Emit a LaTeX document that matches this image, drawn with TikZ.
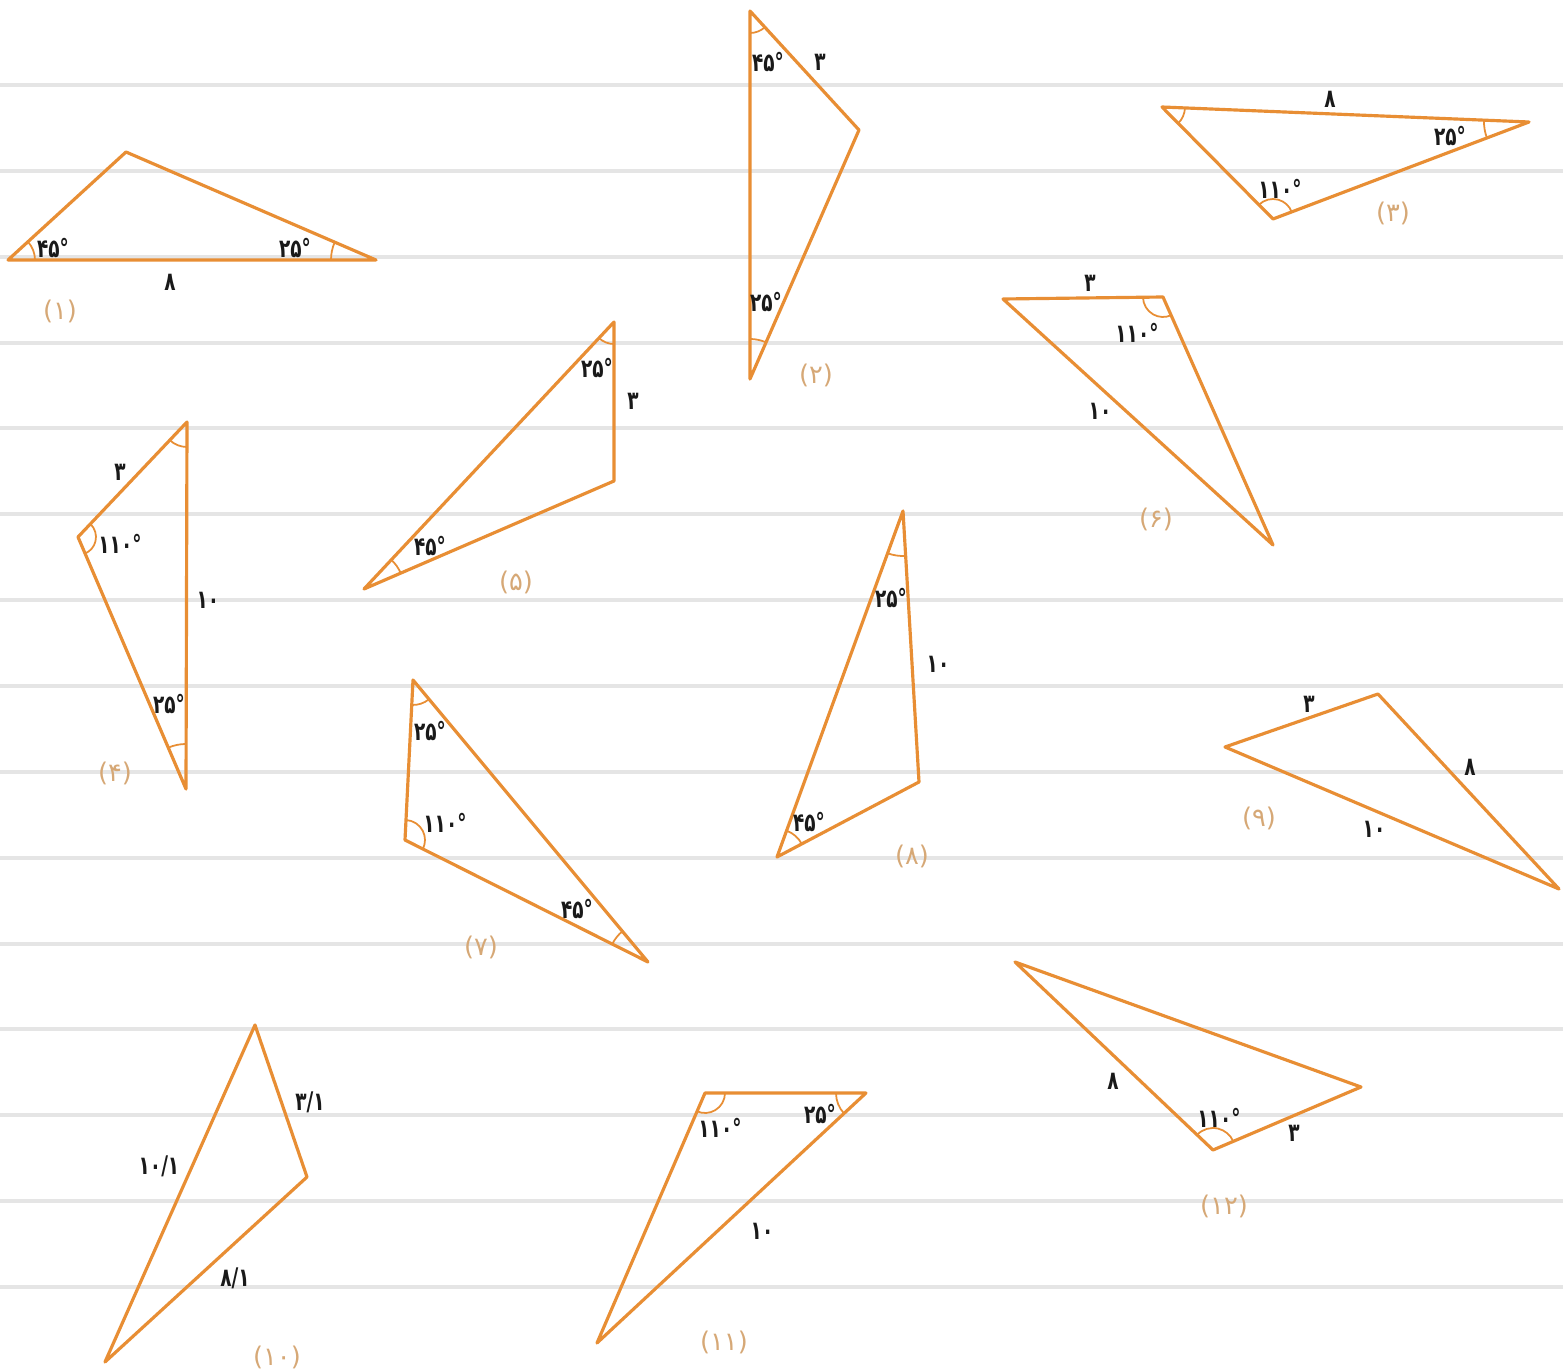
\documentclass[tikz,border=0pt]{standalone}
\usepackage{fontspec}
\usetikzlibrary{calc}
\newfontfamily\fa[Script=Arabic,FakeStretch=0.72]{DejaVu Sans}
\newfontfamily\fac[Script=Arabic]{DejaVu Sans}
\definecolor{tri}{RGB}{232,142,52}
\definecolor{capc}{RGB}{214,168,118}
\definecolor{rule}{RGB}{229,229,229}
\tikzset{
  triline/.style={draw=tri,line width=0.9pt,line join=round},
  arcline/.style={draw=tri,line width=0.5pt},
  num/.style={font=\fa\bfseries\fontsize{7.3}{8}\selectfont,inner sep=0pt,text=black!90},
  capt/.style={font=\fac\fontsize{7.3}{8}\selectfont,inner sep=0pt,text=capc},
  ruleline/.style={draw=rule,line width=0.9pt}
}
\newcommand\angmark[4]{\draw[arcline] let \p1=($(#2)-(#1)$), \p2=($(#3)-(#1)$),
  \n1={atan2(\y1,\x1)}, \n2={atan2(\y2,\x2)}, \n3={mod(\n2-\n1+540,360)-180} in
  ($(#1)+(\n1:#4)$) arc[start angle=\n1, delta angle=\n3, radius=#4];}
\begin{document}
\begin{tikzpicture}[x=0.01cm,y=0.01cm]
\useasboundingbox (0,0) rectangle (1563,-1370);
\fill[white] (0,0) rectangle (1563,-1370);
% ruled lines
\foreach \yy in {85,171,257,343,428,514,600,686,772,858,944,1029,1115,1201,1287}
  \draw[ruleline] (0,-\yy) -- (1563,-\yy);

% (1)
\coordinate (t1a) at (8,-260); \coordinate (t1b) at (126,-152); \coordinate (t1c) at (376,-260);
\draw[triline] (t1a) -- (t1b) -- (t1c) -- cycle;
\angmark{t1a}{t1b}{t1c}{27} \angmark{t1c}{t1a}{t1b}{45}
\node[num] (n1a) at (53,-248) {۴۵°};
\node[num] (n1c) at (295,-248) {۲۵°};
\node[num] (n1s) at (170,-282) {۸};
\node[capt] (c1) at (60,-311) {(۱)};

% (2)
\coordinate (t2a) at (750,-11); \coordinate (t2b) at (859,-130); \coordinate (t2c) at (750,-379);
\draw[triline] (t2a) -- (t2b) -- (t2c) -- cycle;
\angmark{t2a}{t2b}{t2c}{22} \angmark{t2c}{t2a}{t2b}{40}
\node[num] (n2a) at (768,-62) {۴۵°};
\node[num] (n2s) at (820,-62) {۳};
\node[num] (n2c) at (766,-302) {۲۵°};
\node[capt] (c2) at (816,-375) {(۲)};

% (3)
\coordinate (t3a) at (1162,-107); \coordinate (t3b) at (1529,-122); \coordinate (t3c) at (1273,-219);
\draw[triline] (t3a) -- (t3b) -- (t3c) -- cycle;
\angmark{t3a}{t3b}{t3c}{23} \angmark{t3b}{t3a}{t3c}{45} \angmark{t3c}{t3a}{t3b}{20}
\node[num] (n3s) at (1330,-99) {۸};
\node[num] (n3b) at (1450,-136) {۲۵°};
\node[num] (n3c) at (1280,-189) {۱۱۰°};
\node[capt] (c3) at (1393,-213) {(۳)};

% (4)
\coordinate (t4a) at (187,-422); \coordinate (t4b) at (78,-537); \coordinate (t4c) at (186,-789);
\draw[triline] (t4a) -- (t4b) -- (t4c) -- cycle;
\angmark{t4a}{t4b}{t4c}{25} \angmark{t4b}{t4a}{t4c}{18} \angmark{t4c}{t4a}{t4b}{45}
\node[num] (n4s1) at (120,-472) {۳};
\node[num] (n4b) at (120,-544) {۱۱۰°};
\node[num] (n4s2) at (208,-600) {۱۰};
\node[num] (n4c) at (169,-704) {۲۵°};
\node[capt] (c4) at (115,-773) {(۴)};

% (5)
\coordinate (t5a) at (364,-589); \coordinate (t5b) at (614,-322); \coordinate (t5c) at (614,-481);
\draw[triline] (t5a) -- (t5b) -- (t5c) -- cycle;
\angmark{t5b}{t5a}{t5c}{22} \angmark{t5a}{t5b}{t5c}{40}
\node[num] (n5b) at (597,-368) {۲۵°};
\node[num] (n5s) at (633,-401) {۳};
\node[num] (n5a) at (430,-546) {۴۵°};
\node[capt] (c5) at (516,-582) {(۵)};

% (6)
\coordinate (t6a) at (1003,-299); \coordinate (t6b) at (1163,-297); \coordinate (t6c) at (1273,-545);
\draw[triline] (t6a) -- (t6b) -- (t6c) -- cycle;
\angmark{t6b}{t6a}{t6c}{20}
\node[num] (n6s1) at (1090,-283) {۳};
\node[num] (n6b) at (1137,-333) {۱۱۰°};
\node[num] (n6s2) at (1100,-411) {۱۰};
\node[capt] (c6) at (1156,-519) {(۶)};

% (7)
\coordinate (t7a) at (413,-680); \coordinate (t7b) at (405,-840); \coordinate (t7c) at (648,-962);
\draw[triline] (t7a) -- (t7b) -- (t7c) -- cycle;
\angmark{t7a}{t7b}{t7c}{25} \angmark{t7b}{t7a}{t7c}{20} \angmark{t7c}{t7a}{t7b}{40}
\node[num] (n7a) at (430,-731) {۲۵°};
\node[num] (n7b) at (445,-823) {۱۱۰°};
\node[num] (n7c) at (577,-909) {۴۵°};
\node[capt] (c7) at (481,-947) {(۷)};

% (8)
\coordinate (t8a) at (903,-511); \coordinate (t8b) at (919,-782); \coordinate (t8c) at (777,-857);
\draw[triline] (t8a) -- (t8b) -- (t8c) -- cycle;
\angmark{t8a}{t8b}{t8c}{45} \angmark{t8c}{t8a}{t8b}{28}
\node[num] (n8a) at (891,-598) {۲۵°};
\node[num] (n8s) at (938,-664) {۱۰};
\node[num] (n8c) at (809,-822) {۴۵°};
\node[capt] (c8) at (912,-856) {(۸)};

% (9)
\coordinate (t9a) at (1225,-747); \coordinate (t9b) at (1378,-694); \coordinate (t9c) at (1559,-889);
\draw[triline] (t9a) -- (t9b) -- (t9c) -- cycle;
\node[num] (n9s1) at (1309,-704) {۳};
\node[num] (n9s2) at (1470,-767) {۸};
\node[num] (n9s3) at (1374,-829) {۱۰};
\node[capt] (c9) at (1259,-818) {(۹)};

% (10)
\coordinate (t10a) at (255,-1025); \coordinate (t10b) at (307,-1177); \coordinate (t10c) at (105,-1362);
\draw[triline] (t10a) -- (t10b) -- (t10c) -- cycle;
\node[num] (n10s1) at (310,-1102) {۳/۱};
\node[num] (n10s2) at (159,-1166) {۱۰/۱};
\node[num] (n10s3) at (235,-1278) {۸/۱};
\node[capt] (c10) at (277,-1357) {(۱۰)};

% (11)
\coordinate (t11a) at (705,-1093); \coordinate (t11b) at (866,-1093); \coordinate (t11c) at (597,-1343);
\draw[triline] (t11a) -- (t11b) -- (t11c) -- cycle;
\angmark{t11a}{t11b}{t11c}{20} \angmark{t11b}{t11a}{t11c}{30}
\node[num] (n11a) at (720,-1128) {۱۱۰°};
\node[num] (n11b) at (820,-1114) {۲۵°};
\node[num] (n11s) at (762,-1231) {۱۰};
\node[capt] (c11) at (724,-1342) {(۱۱)};

% (12)
\coordinate (t12a) at (1015,-962); \coordinate (t12b) at (1361,-1087); \coordinate (t12c) at (1213,-1150);
\draw[triline] (t12a) -- (t12b) -- (t12c) -- cycle;
\angmark{t12c}{t12a}{t12b}{22}
\node[num] (n12s1) at (1113,-1081) {۸};
\node[num] (n12c) at (1219,-1118) {۱۱۰°};
\node[num] (n12s2) at (1294,-1133) {۳};
\node[capt] (c12) at (1224,-1206) {(۱۲)};
\end{tikzpicture}
\end{document}
